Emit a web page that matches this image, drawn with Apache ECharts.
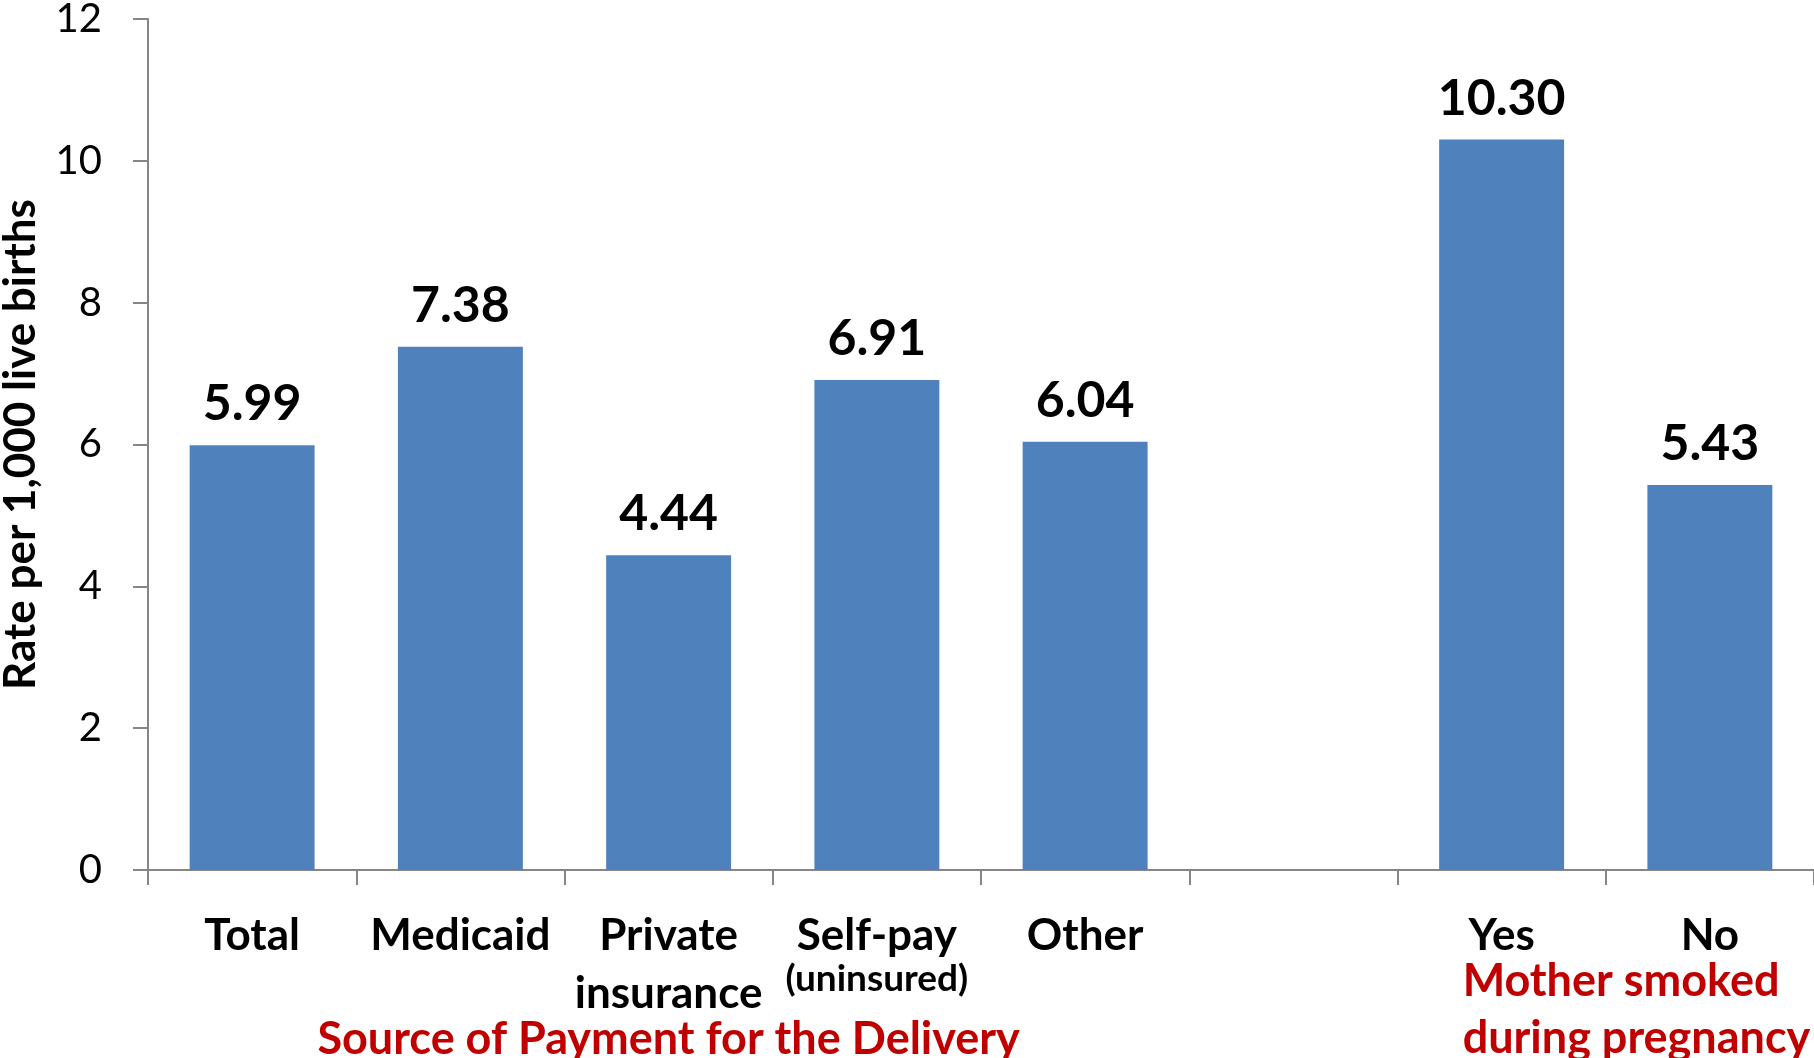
<!DOCTYPE html>
<html>
<head>
<meta charset="utf-8">
<style>
  html, body { margin: 0; padding: 0; background: #ffffff; }
  #chart { width: 1814px; height: 1058px; }
</style>
<script src="https://cdn.jsdelivr.net/npm/echarts@6/dist/echarts.min.js"></script>
</head>
<body>
<div id="chart"></div>
<script>
// Infant mortality rate per 1,000 live births, by payer and maternal smoking
const categories = ['Total', 'Medicaid', 'Private\ninsurance', 'Self-pay\n{s|(uninsured)}', 'Other', '', 'Yes', 'No'];
const rates = [5.99, 7.38, 4.44, 6.91, 6.04, null, 10.30, 5.43];
const yTicks = { min: 0, max: 12, interval: 2 };
const payerGroupTitle = 'Source of Payment for the Delivery';
const smokingGroupTitle = 'Mother smoked\nduring pregnancy';

const FONT = 'Lato';
const AXIS_GREY = '#868686';
const BAR_BLUE = '#4F81BD';
const GROUP_RED = '#C00000';

const chart = echarts.init(document.getElementById('chart'), null, { renderer: 'canvas' });

const option = {
  animation: false,
  backgroundColor: '#ffffff',
  grid: { left: 148, top: 19, right: 0, bottom: 188, containLabel: false, outerBoundsMode: 'none' },
  xAxis: {
    type: 'category',
    data: categories,
    boundaryGap: true,
    axisLine: { show: true, lineStyle: { color: AXIS_GREY, width: 2 } },
    axisTick: { show: true, alignWithLabel: false, length: 15, lineStyle: { color: AXIS_GREY, width: 2 } },
    axisLabel: {
      interval: 0,
      margin: 37,
      color: '#000000',
      fontFamily: FONT,
      fontWeight: 'bold',
      fontSize: 44,
      lineHeight: 58,
      verticalAlign: 'top',
      rich: {
        s: { fontFamily: FONT, fontWeight: 'bold', fontSize: 37, lineHeight: 28, color: '#000000' }
      }
    },
    splitLine: { show: false }
  },
  yAxis: {
    type: 'value',
    min: yTicks.min,
    max: yTicks.max,
    interval: yTicks.interval,
    name: 'Rate per 1,000 live births',
    nameLocation: 'middle',
    nameGap: 105,
    nameRotate: 90,
    nameTextStyle: { color: '#000000', fontFamily: FONT, fontWeight: 'bold', fontSize: 44 },
    axisLine: { show: true, lineStyle: { color: AXIS_GREY, width: 2 } },
    axisTick: { show: true, length: 15, lineStyle: { color: AXIS_GREY, width: 2 } },
    axisLabel: { margin: 46, color: '#000000', fontFamily: FONT, fontSize: 40 },
    splitLine: { show: false }
  },
  series: [{
    type: 'bar',
    data: rates,
    barCategoryGap: '40%',
    itemStyle: { color: BAR_BLUE },
    label: {
      show: true,
      position: 'top',
      distance: 16,
      color: '#000000',
      fontFamily: FONT,
      fontWeight: 'bold',
      fontSize: 50,
      formatter: p => (p.value == null ? '' : Number(p.value).toFixed(2))
    }
  }]
};

chart.setOption(option);

// Group captions under the category axis, anchored to category positions
const leftX = chart.convertToPixel({ xAxisIndex: 0 }, categories[0]);
const rightX = chart.convertToPixel({ xAxisIndex: 0 }, categories[4]);
const yesX = chart.convertToPixel({ xAxisIndex: 0 }, categories[6]);

chart.setOption({
  graphic: [
    {
      type: 'text',
      x: (leftX + rightX) / 2,
      y: 1039,
      style: {
        text: payerGroupTitle,
        fill: GROUP_RED,
        font: 'bold 45px ' + FONT,
        align: 'center',
        verticalAlign: 'middle'
      }
    },
    {
      type: 'text',
      x: yesX - 39,
      y: 1010,
      style: {
        text: smokingGroupTitle,
        fill: GROUP_RED,
        font: 'bold 45px ' + FONT,
        lineHeight: 57,
        align: 'left',
        verticalAlign: 'middle'
      }
    }
  ]
});
</script>
</body>
</html>
